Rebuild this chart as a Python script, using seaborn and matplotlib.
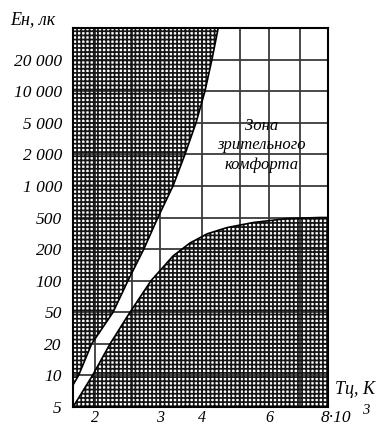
import numpy as np
import pandas as pd
import matplotlib
matplotlib.use("Agg")
import matplotlib.pyplot as plt
import seaborn as sns

# ---------------- data ----------------
y_ticks = [5, 10, 20, 50, 100, 200, 500, 1000, 2000, 5000, 10000, 20000]
y_tick_labels = ["5", "10", "20", "50", "100", "200", "500", "1 000", "2 000",
                 "5 000", "10 000", "20 000"]
x_ticks = [2, 3, 4, 6, 8]
x_tick_labels = ["2", "3", "4", "6", ""]
x_minor_grid = [2.5, 5, 7]

# upper boundary of the comfort zone (T in 10^3 K, E in lx)
upper_T = [1.75, 1.81, 1.96, 2.23, 2.44, 2.70, 2.96, 3.28, 3.56, 3.84, 4.07, 4.24, 4.40]
upper_E = [8.1, 10, 20, 50, 100, 200, 500, 1000, 2000, 5000, 10000, 20000, 50000]
# lower boundary of the comfort zone
lower_T = [1.75, 1.97, 2.19, 2.47, 2.83, 3.28, 3.68, 4.12, 4.63, 5.43, 6.56, 7.7, 8.0]
lower_E = [5, 10, 20, 50, 100, 172, 238, 311, 373, 432, 485, 500, 500]

# ---------------- axis scales (nomogram-style, piecewise) ----------------
xs_knots = np.array([1.0, 1.75, 2, 2.5, 3, 4, 5, 6, 7, 8, 16])
xs_pos = np.array([-20, 73, 95, 132, 160, 202, 240, 269, 300, 328, 443], float)
ys_knots = np.array([1, 5, 10, 20, 50, 100, 200, 500, 1000, 2000, 5000, 10000,
                     20000, 50000, 1e6])
ys_pos = np.array([-2.1, 0, 1, 2, 3, 4, 5, 6, 7, 8, 9, 10, 11, 12, 15.9])


def make_funcs(knots, pos):
    lk = np.log10(knots)

    def fwd(v):
        v = np.asarray(v, float)
        return np.interp(np.log10(np.clip(v, 1e-9, None)), lk, pos)

    def inv(p):
        p = np.asarray(p, float)
        return 10 ** np.interp(p, pos, lk)
    return fwd, inv


sns.set_theme(style="white")
plt.rcParams["font.family"] = ["Liberation Serif", "DejaVu Serif"]
plt.rcParams["hatch.linewidth"] = 1.25

fig = plt.figure(figsize=(3.77, 4.28), dpi=100)
W, H = 377, 428
ax = fig.add_axes([73 / W, 1 - 407 / H, (328 - 73) / W, (407 - 28) / H])

ax.set_xscale("function", functions=make_funcs(xs_knots, xs_pos))
ax.set_yscale("function", functions=make_funcs(ys_knots, ys_pos))
ax.set_xlim(1.75, 8)
ax.set_ylim(5, 50000)

# hatched (discomfort) regions
ax.fill_betweenx(upper_E, 1.75, upper_T, facecolor="none", edgecolor="#151515",
                 hatch="++++", linewidth=0, zorder=1)
ax.fill_between(lower_T, 5, lower_E, facecolor="none", edgecolor="#151515",
                hatch="++++", linewidth=0, zorder=1)

# boundary curves
sns.lineplot(x=upper_T, y=upper_E, sort=False, estimator=None, color="black",
             linewidth=1.2, ax=ax, zorder=3)
sns.lineplot(x=lower_T, y=lower_E, sort=False, estimator=None, color="black",
             linewidth=1.2, ax=ax, zorder=3)

# ticks and grid
ax.set_xticks(x_ticks)
ax.set_xticklabels(x_tick_labels)
ax.set_xticks(x_minor_grid, minor=True)
ax.set_yticks(y_ticks)
ax.set_yticklabels(y_tick_labels)
ax.yaxis.set_minor_locator(matplotlib.ticker.NullLocator())
ax.grid(True, which="both", color="#3a3a3a", linewidth=1.3, zorder=0)
ax.set_axisbelow(True)
ax.tick_params(axis="both", which="both", length=0)
ax.tick_params(axis="y", pad=8, labelsize=12.5)
ax.tick_params(axis="x", pad=2.5, labelsize=11.5)
for lab in ax.get_xticklabels() + ax.get_yticklabels():
    lab.set_fontstyle("italic")
    lab.set_color("black")

for s in ax.spines.values():
    s.set_visible(True)
    s.set_color("black")
    s.set_linewidth(1.5)

ax.set_xlabel("")
ax.set_ylabel("")

# texts
ax.text(0.741, 0.691, "Зона\nзрительного\nкомфорта", transform=ax.transAxes,
        ha="center", va="center", fontsize=12, style="italic", linespacing=1.3,
        color="black", zorder=4)
fig.text(10 / W, 1 - 20 / H, "Ен, лк", ha="left", va="center", fontsize=13,
         style="italic", color="black")
fig.text(335 / W, 1 - 389 / H, "Тц, К", ha="left", va="center", fontsize=13,
         style="italic", color="black")
fig.text(321 / W, 1 - 418 / H, "8·10", ha="left", va="center", fontsize=12.5,
         style="italic", color="black")
fig.text(362 / W, 1 - 410 / H, "3", ha="left", va="center", fontsize=10.5,
         style="italic", color="black")

fig.savefig("out.png", dpi=100)
